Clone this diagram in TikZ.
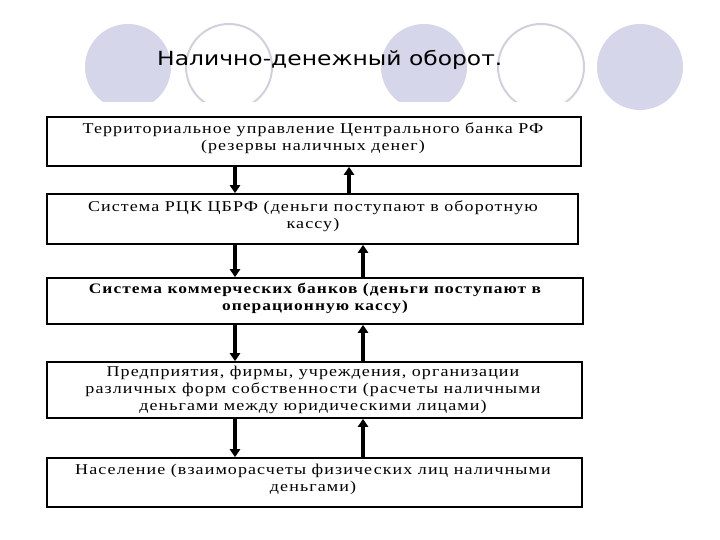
\documentclass[tikz,border=0pt]{standalone}
\usepackage{fontspec}
\setmainfont{Liberation Serif}
\newfontfamily\titlefont{DejaVu Sans}
\newfontfamily\boxfont[LetterSpace=6]{Liberation Serif}
\usetikzlibrary{arrows.meta}
\definecolor{circfill}{HTML}{D6D6EA}
\definecolor{circline}{HTML}{D0D0DE}
\tikzset{
  filledcirc/.style={fill=circfill, draw=none},
  ringcirc/.style={draw=circline, line width=2pt, fill=white},
  box/.style={draw=black, line width=1.6pt, rectangle, inner sep=0pt},
  txt/.style={align=center, inner sep=0pt, xscale=1.2, transform shape,
    font=\boxfont\fontsize{15}{17}\selectfont},
  arr/.style={line width=3.2pt, -{Triangle[width=10pt,length=8pt]}},
}
\begin{document}
\begin{tikzpicture}[x=1pt,y=-1pt]
\useasboundingbox (0,0) rectangle (720,540);
% decorative circles
\path[filledcirc] (128,67) ellipse [x radius=43, y radius=43];
\path[ringcirc] (229,67) ellipse [x radius=43, y radius=43];
\path[filledcirc] (424,67) ellipse [x radius=43, y radius=43];
\path[ringcirc] (541,67) ellipse [x radius=43, y radius=43];
\path[filledcirc] (640,67) ellipse [x radius=43, y radius=43];
\fill[white] (0,102) rectangle (592,540);
% title
\node[anchor=base west, inner sep=0pt, xscale=1.2, transform shape, font=\titlefont\fontsize{19.5}{23}\selectfont] (title) at (157,66) {Налично-денежный оборот.};
% boxes
\node[box, minimum width=534, minimum height=49] (b1) at (314,141.5) {};
\node[box, minimum width=531, minimum height=50] (b2) at (312.5,219) {};
\node[box, minimum width=536, minimum height=46] (b3) at (315,301) {};
\node[box, minimum width=535, minimum height=56] (b4) at (314.5,390) {};
\node[box, minimum width=535, minimum height=49] (b5) at (314.5,482.5) {};
% texts
\node[txt] (t1) at (313,138) {Территориальное управление Центрального банка РФ\\(резервы наличных денег)};
\node[txt] (t2) at (313,216) {Система РЦК ЦБРФ (деньги поступают в оборотную\\кассу)};
\node[txt, font=\boxfont\bfseries\fontsize{14.5}{17}\selectfont] (t3) at (315,298) {Система коммерческих банков (деньги поступают в\\операционную кассу)};
\node[txt] (t4) at (313,389.5) {Предприятия, фирмы, учреждения, организации\\различных форм собственности (расчеты наличными\\деньгами между юридическими лицами)};
\node[txt] (t5) at (313,479) {Население (взаиморасчеты физических лиц наличными\\деньгами)};
% arrow columns
\coordinate (dx) at (235,0);
\coordinate (ux1) at (349,0);
\coordinate (ux) at (363,0);
\draw[arr] (b1.south -| dx) -- (b2.north -| dx);
\draw[arr] (b2.north -| ux1) -- (b1.south -| ux1);
\draw[arr] (b2.south -| dx) -- (b3.north -| dx);
\draw[arr] (b3.north -| ux) -- (b2.south -| ux);
\draw[arr] (b3.south -| dx) -- (b4.north -| dx);
\draw[arr] (b4.north -| ux) -- (b3.south -| ux);
\draw[arr] (b4.south -| dx) -- (b5.north -| dx);
\draw[arr] (b5.north -| ux) -- (b4.south -| ux);
\end{tikzpicture}
\end{document}
